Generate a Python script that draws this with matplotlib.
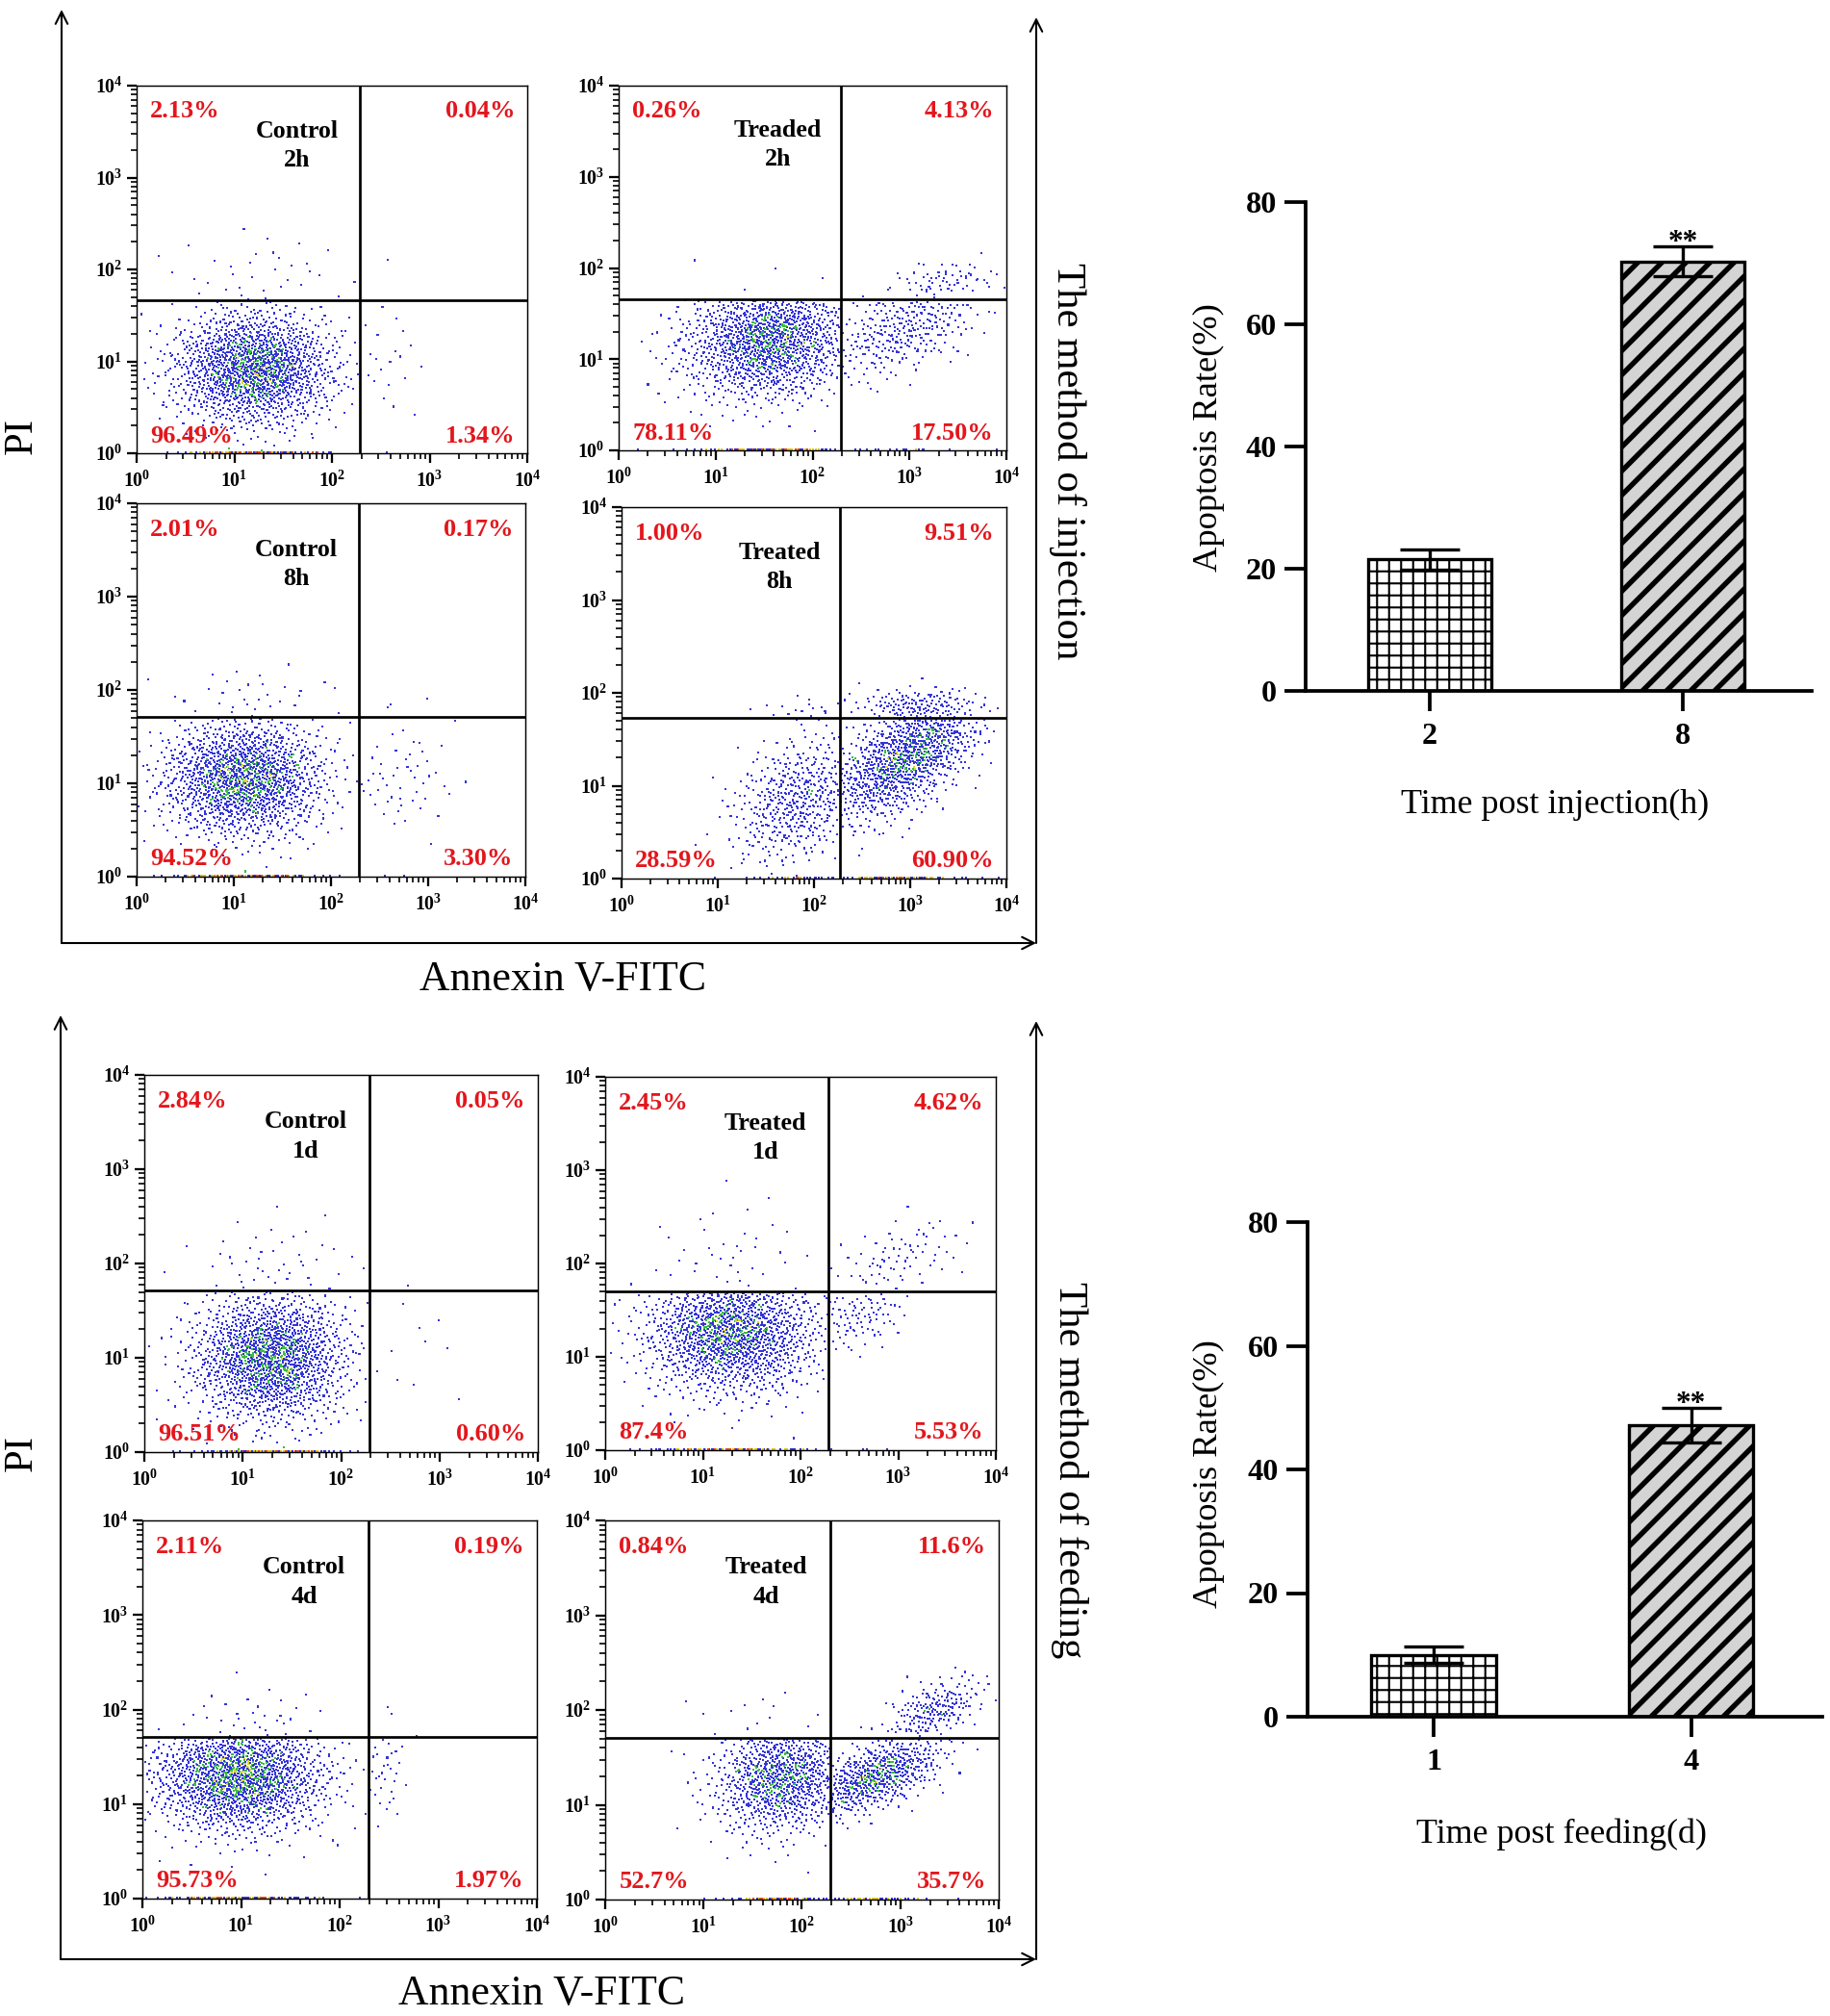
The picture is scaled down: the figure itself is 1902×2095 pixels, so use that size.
import numpy as np
import matplotlib
matplotlib.use('Agg')
import matplotlib.pyplot as plt
from matplotlib.ticker import LogLocator, FuncFormatter, NullFormatter
from statistics import NormalDist

plt.rcParams['font.family'] = ['Liberation Serif', 'DejaVu Serif']
plt.rcParams['mathtext.fontset'] = 'custom'
plt.rcParams['mathtext.rm'] = 'Liberation Serif'
plt.rcParams['mathtext.bf'] = 'Liberation Serif:bold'

# ---- flow cytometry panels (quadrant percentages) ----
panel_titles = ['Control', 'Treaded', 'Control', 'Treated',
                'Control', 'Treated', 'Control', 'Treated']
panel_times = ['2h', '2h', '8h', '8h', '1d', '1d', '4d', '4d']
pct_ul = ['2.13', '0.26', '2.01', '1.00', '2.84', '2.45', '2.11', '0.84']
pct_ur = ['0.04', '4.13', '0.17', '9.51', '0.05', '4.62', '0.19', '11.6']
pct_ll = ['96.49', '78.11', '94.52', '28.59', '96.51', '87.4', '95.73', '52.7']
pct_lr = ['1.34', '17.50', '3.30', '60.90', '0.60', '5.53', '1.97', '35.7']

# quadrant gates (log10 of Annexin V / PI)
gate_x = [2.29, 2.29, 2.29, 2.27, 2.29, 2.29, 2.29, 2.29]
gate_y = [1.66, 1.66, 1.71, 1.73, 1.71, 1.70, 1.71, 1.71]

# shape of each population cloud, log10 units, order UL, UR, LL, LR
cloud_cx = [[1.3, 2.6, 1.2, 2.55], [1.4, 3.35, 1.55, 2.95],
            [1.2, 2.6, 1.1, 2.7], [1.95, 3.1, 1.85, 2.95],
            [1.3, 2.5, 1.28, 2.7], [1.3, 3.0, 1.3, 2.6],
            [1.1, 2.5, 0.98, 2.45], [1.5, 3.35, 1.8, 2.75]]
cloud_cy = [[1.9, 2.0, 0.92, 1.0], [1.85, 1.85, 1.2, 1.35],
            [1.9, 1.85, 1.05, 1.05], [1.8, 1.85, 0.85, 1.3],
            [1.95, 1.8, 1.0, 1.1], [2.05, 2.05, 1.25, 1.45],
            [1.85, 1.9, 1.28, 1.35], [1.95, 2.0, 1.28, 1.3]]
cloud_sx = [[0.5, 0.2, 0.42, 0.2], [0.5, 0.3, 0.45, 0.42],
            [0.5, 0.2, 0.42, 0.3], [0.25, 0.35, 0.35, 0.4],
            [0.45, 0.15, 0.4, 0.35], [0.45, 0.35, 0.45, 0.25],
            [0.45, 0.15, 0.45, 0.12], [0.4, 0.25, 0.35, 0.35]]
cloud_sy = [[0.3, 0.2, 0.32, 0.3], [0.15, 0.12, 0.33, 0.3],
            [0.2, 0.1, 0.32, 0.3], [0.08, 0.1, 0.35, 0.35],
            [0.25, 0.1, 0.35, 0.35], [0.3, 0.22, 0.33, 0.2],
            [0.2, 0.1, 0.3, 0.3], [0.15, 0.17, 0.3, 0.22]]
cloud_rho = [[0, 0, 0, 0], [0, 0.3, 0.1, 0.55],
             [0, 0, 0, 0], [0, 0, 0.3, 0.6],
             [0, 0, 0, 0], [0, 0.5, 0, 0.3],
             [0, 0, 0, 0], [0, 0.5, 0.1, 0.6]]
events_shown = 1600
floor_frac = 0.05

# ---- bar charts ----
inj_cats = ['2', '8']
inj_mean = [21.5, 70.3]
inj_err = [1.6, 2.4]
feed_cats = ['1', '4']
feed_mean = [10.0, 47.2]
feed_err = [1.3, 2.8]
sig_marks = ['', '**']

W, H = 1902, 2095
fig = plt.figure(figsize=(W / 150, H / 150), dpi=150)


def rect(l, r, t, b):
    return [l / W, 1 - b / H, (r - l) / W, (b - t) / H]


# frame with arrows
ax0 = fig.add_axes([0, 0, 1, 1])
ax0.set_xlim(0, W)
ax0.set_ylim(H, 0)
ax0.axis('off')
arrow = dict(arrowstyle='->', lw=1.0, color='black', mutation_scale=15,
             shrinkA=0, shrinkB=0)
for (xl, xr, yb, ytl, ytr) in [(64, 1077, 980, 10, 18), (63, 1077, 2036, 1055, 1061)]:
    ax0.annotate('', xy=(xl, ytl), xytext=(xl, yb), arrowprops=arrow)
    ax0.annotate('', xy=(xr, yb), xytext=(xl, yb), arrowprops=arrow)
    ax0.annotate('', xy=(xr, ytr), xytext=(xr, yb), arrowprops=arrow)

fig.text(23 / W, 1 - 453 / H, 'PI', rotation=90, ha='center', va='center', fontsize=20.5)
fig.text(23 / W, 1 - 1510 / H, 'PI', rotation=90, ha='center', va='center', fontsize=20.5)
fig.text(585 / W, 1 - 1018 / H, 'Annexin V-FITC', ha='center', va='center', fontsize=21)
fig.text(563 / W, 1 - 2072 / H, 'Annexin V-FITC', ha='center', va='center', fontsize=21)
fig.text(1110 / W, 1 - 479 / H, 'The method of injection', rotation=-90,
         ha='center', va='center', fontsize=20.5)
fig.text(1112 / W, 1 - 1528 / H, 'The method of feeding', rotation=-90,
         ha='center', va='center', fontsize=20.5)

boxes = [(142, 548, 89, 471), (643, 1046, 89, 468),
         (142, 546, 523, 911), (646, 1046, 527, 913),
         (150, 559, 1117, 1509), (629, 1035, 1119, 1507),
         (148, 558, 1580, 1973), (629, 1038, 1580, 1974)]

inv_norm = np.vectorize(NormalDist().inv_cdf)


def halton(idx, base):
    idx = np.array(idx, dtype=np.int64)
    out = np.zeros(len(idx))
    f = 1.0
    while np.any(idx > 0):
        f /= base
        out += f * (idx % base)
        idx //= base
    return out


def cloud(cx, cy, sx, sy, rho, n, lims, start):
    xs, ys, got, k = [], [], 0, start
    while got < n and k < start + 120000:
        idx = np.arange(k, k + 3000)
        z1 = inv_norm(halton(idx, 2))
        z2 = inv_norm(halton(idx, 3))
        x = cx + sx * z1
        y = cy + sy * (rho * z1 + np.sqrt(1 - rho ** 2) * z2)
        m = (x > lims[0]) & (x < lims[1]) & (y > lims[2]) & (y < lims[3])
        xs.append(x[m])
        ys.append(y[m])
        got += m.sum()
        k += 3000
    return np.concatenate(xs)[:n], np.concatenate(ys)[:n]


red = '#e3161c'
fmt = FuncFormatter(lambda v, pos: r'$\mathbf{10^{%d}}$' % round(np.log10(v)))

for p in range(8):
    l, r, t, b = boxes[p]
    ax = fig.add_axes(rect(l, r, t, b))
    gx, gy = gate_x[p], gate_y[p]
    pcts = [pct_ul[p], pct_ur[p], pct_ll[p], pct_lr[p]]
    lims = [(0.02, gx - 0.01, gy + 0.01, 3.98), (gx + 0.01, 3.98, gy + 0.01, 3.98),
            (0.02, gx - 0.01, 0.03, gy - 0.01), (gx + 0.01, 3.98, 0.03, gy - 0.01)]
    px, py = [], []
    for q in range(4):
        n = int(round(events_shown * float(pcts[q]) / 100))
        if n == 0:
            continue
        x, y = cloud(cloud_cx[p][q], cloud_cy[p][q], cloud_sx[p][q], cloud_sy[p][q],
                     cloud_rho[p][q], n, lims[q], 1 + 9973 * (p * 4 + q))
        if q >= 2:
            nf = int(len(y) * floor_frac)
            y[:nf] = 0.012
        px.append(x)
        py.append(y)
    px = np.concatenate(px)
    py = np.concatenate(py)
    hist, xe, ye = np.histogram2d(px, py, bins=[np.arange(0, 4.06, 0.06)] * 2)
    ix = np.clip(np.digitize(px, xe) - 1, 0, hist.shape[0] - 1)
    iy = np.clip(np.digitize(py, ye) - 1, 0, hist.shape[1] - 1)
    dens = hist[ix, iy]
    order = np.arange(len(px))
    cols = np.array(['#3434d8'] * len(px), dtype=object)
    cols[(dens >= 5) & (order % 3 == 0)] = '#3cbc40'
    cols[(dens >= 7) & (order % 5 == 0)] = '#d8d82a'
    fl = py < 0.02
    cols[fl & (dens >= 2) & (order % 2 == 0)] = '#e6c81e'
    cols[fl & (dens >= 3) & (order % 3 == 0)] = '#e8501e'
    ax.scatter(10 ** px, 10 ** py, s=1.0, c=list(cols), marker='s', linewidths=0, zorder=2)

    ax.set_xscale('log')
    ax.set_yscale('log')
    ax.set_xlim(1, 1e4)
    ax.set_ylim(1, 1e4)
    for axis in (ax.xaxis, ax.yaxis):
        axis.set_major_locator(LogLocator(base=10, numticks=10))
        axis.set_minor_locator(LogLocator(base=10, subs=np.arange(2, 10), numticks=10))
        axis.set_major_formatter(fmt)
        axis.set_minor_formatter(NullFormatter())
    ax.tick_params(which='major', direction='out', length=5, width=1.1, labelsize=9.5, pad=2)
    ax.tick_params(axis='x', which='major', pad=4)
    ax.tick_params(which='minor', direction='out', length=2.8, width=0.8)
    for s in ax.spines.values():
        s.set_linewidth(0.7)
    ax.axvline(10 ** gx, color='black', lw=1.3, zorder=3)
    ax.axhline(10 ** gy, color='black', lw=1.3, zorder=3)

    tk = dict(transform=ax.transAxes, color=red, fontsize=12.7, fontweight='bold', va='center')
    ax.text(0.035, 0.93, pcts[0] + '%', ha='left', **tk)
    ax.text(0.968, 0.93, pcts[1] + '%', ha='right', **tk)
    ax.text(0.035, 0.047, pcts[2] + '%', ha='left', **tk)
    ax.text(0.968, 0.047, pcts[3] + '%', ha='right', **tk)
    ax.text(0.41, 0.876, panel_titles[p], transform=ax.transAxes, ha='center',
            va='center', fontsize=12.5, fontweight='bold')
    ax.text(0.41, 0.798, panel_times[p], transform=ax.transAxes, ha='center',
            va='center', fontsize=12.5, fontweight='bold')


# ---- bar charts ----
def bar_chart(box, cats, mean, err, xlabel, xlab_pos, ylab_pos):
    ax = fig.add_axes(rect(*box))
    xs = np.arange(len(cats))
    fills = ['white', '#d4d4d4']
    hatches = ['++', '//']
    hlw = [1.0, 2.6]
    for i in range(len(cats)):
        plt.rcParams['hatch.linewidth'] = hlw[i]
        bars = ax.bar(xs[i], mean[i], width=0.485, color=fills[i], edgecolor='black',
                      linewidth=1.6, hatch=hatches[i], zorder=2)
        for bp in bars:
            if hasattr(bp, 'set_hatch_linewidth'):
                bp.set_hatch_linewidth(hlw[i])
    ax.errorbar(xs, mean, yerr=err, fmt='none', ecolor='black', elinewidth=1.6,
                capsize=15, capthick=1.6, zorder=3)
    for i in range(len(cats)):
        if sig_marks[i]:
            ax.text(xs[i], mean[i] + err[i] - 0.6, sig_marks[i], ha='center',
                    va='baseline', fontsize=15, fontweight='bold')
    ax.set_xlim(-0.49, 1.51)
    ax.set_ylim(0, 80)
    ax.set_yticks([0, 20, 40, 60, 80])
    ax.set_xticks(xs)
    ax.set_xticklabels(cats)
    for s in ['top', 'right']:
        ax.spines[s].set_visible(False)
    for s in ['left', 'bottom']:
        ax.spines[s].set_linewidth(1.8)
    ax.tick_params(axis='y', direction='out', length=10.5, width=1.8, labelsize=15.5, pad=4)
    ax.tick_params(axis='x', direction='out', length=10, width=1.8, labelsize=15.5, pad=6)
    for lab in ax.get_xticklabels() + ax.get_yticklabels():
        lab.set_fontweight('bold')
    fig.text(xlab_pos[0] / W, 1 - xlab_pos[1] / H, xlabel, ha='center', va='center',
             fontsize=17.3)
    fig.text(ylab_pos[0] / W, 1 - ylab_pos[1] / H, 'Apoptosis Rate(%)', rotation=90,
             ha='center', va='center', fontsize=17.5)


bar_chart((1357, 1883, 210, 718), inj_cats, inj_mean, inj_err,
          'Time post injection(h)', (1616, 836), (1256, 455))
bar_chart((1359, 1894, 1270, 1784), feed_cats, feed_mean, feed_err,
          'Time post feeding(d)', (1623, 1906), (1256, 1532))

fig.savefig('out.png', dpi=150, facecolor='white')
